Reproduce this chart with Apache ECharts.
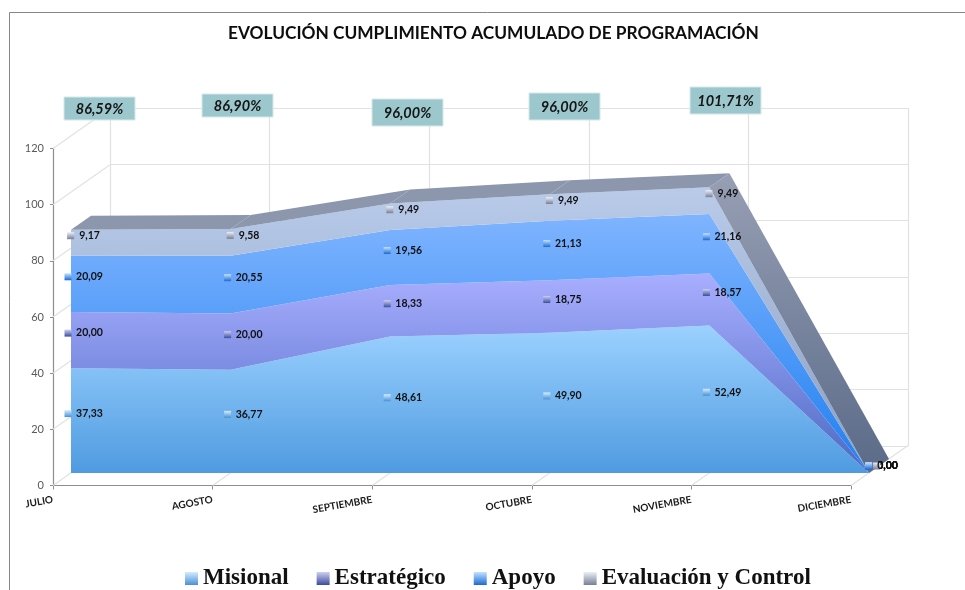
<!DOCTYPE html>
<html>
<head>
<meta charset="utf-8">
<style>html,body{margin:0;padding:0;background:#fff}#main{width:965px;height:590px}</style>
<script src="https://cdn.jsdelivr.net/npm/echarts@6/dist/echarts.min.js"></script>
</head>
<body>
<div id="main"></div>
<script>
var meses = ['JULIO', 'AGOSTO', 'SEPTIEMBRE', 'OCTUBRE', 'NOVIEMBRE', 'DICIEMBRE'];
var misional = [37.33, 36.77, 48.61, 49.90, 52.49, 0];
var estrategico = [20.00, 20.00, 18.33, 18.75, 18.57, 0];
var apoyo = [20.09, 20.55, 19.56, 21.13, 21.16, 0];
var evaluacion = [9.17, 9.58, 9.49, 9.49, 9.49, 0];
var cumplimiento = ['86,59%', '86,90%', '96,00%', '96,00%', '101,71%'];

var nombres = ['Misional', 'Estratégico', 'Apoyo', 'Evaluación y Control'];
var valores = [misional, estrategico, apoyo, evaluacion];

// [arriba, abajo] del degradado de cada banda
var bandas = [['#9bd1ff', '#4f9be0'], ['#a9aeff', '#4a69c2'], ['#7fb4ff', '#1f7ff0'], ['#b9cbe9', '#8b9ec2']];
var marcas = [['#d4ecff', '#4a90d4'], ['#cdd0f0', '#3a4c9e'], ['#c4e2ff', '#1b6ad2'], ['#eceff6', '#767f96']];
// x, y de cada recuadro de porcentaje
var cajas = [[64, 97], [202, 94], [372, 99], [529, 93], [690, 87]];

var FONT = 'Lato';
var PROF_X = 20, PROF_Y = -14;   // grosor de las areas
var PARED_X = 57, PARED_Y = -40; // fondo del grafico

function grad(c) {
    return new echarts.graphic.LinearGradient(0, 0, 0, 1, [{offset: 0, color: c[0]}, {offset: 1, color: c[1]}]);
}

var totales = meses.map(function (m, i) {
    return misional[i] + estrategico[i] + apoyo[i] + evaluacion[i];
});
var tramos = totales.slice(0, -1).map(function (t, i) { return [i, t, totales[i + 1]]; });

var etiquetas = [];
valores.forEach(function (v, s) {
    v.forEach(function (val, i) {
        var base = 0;
        for (var k = 0; k < s; k++) base += valores[k][i];
        etiquetas.push([i, base + val / 2, val, s]);
    });
});

var lineasPared = [];
[0, 20, 40, 60, 80, 100, 120].forEach(function (v) { lineasPared.push([0, v]); });
meses.forEach(function (m, i) { if (i > 0) lineasPared.push([i, 0]); });

var series = [
    {
        type: 'custom', xAxisIndex: 1, yAxisIndex: 1, z: 1, silent: true,
        data: lineasPared, encode: {x: 0, y: 1},
        renderItem: function (params, api) {
            var p = api.coord([api.value(0), api.value(1)]);
            return {
                type: 'line',
                shape: {x1: p[0], y1: p[1], x2: p[0] + PARED_X, y2: p[1] + PARED_Y},
                style: {stroke: '#e2e2e2', lineWidth: 1.2}
            };
        }
    }
];

valores.forEach(function (v, s) {
    series.push({
        name: nombres[s],
        type: 'line',
        stack: 'total',
        xAxisIndex: 2, yAxisIndex: 2,
        data: v,
        z: 3,
        symbol: 'none',
        lineStyle: {width: 0},
        itemStyle: {color: grad(marcas[s])},
        areaStyle: {color: grad(bandas[s]), opacity: 1},
        silent: true
    });
});

// techo y lateral de la pila
series.push({
    type: 'custom', xAxisIndex: 2, yAxisIndex: 2, z: 3, silent: true,
    data: tramos, encode: {x: 0, y: 1},
    renderItem: function (params, api) {
        var i = api.value(0);
        var a = api.coord([i, api.value(1)]);
        var b = api.coord([i + 1, api.value(2)]);
        var cae = api.value(2) < api.value(1) - 20;
        return {
            type: 'polygon',
            shape: {points: [a, b, [b[0] + PROF_X, b[1] + PROF_Y], [a[0] + PROF_X, a[1] + PROF_Y]]},
            style: {fill: cae ? grad(['#979fb4', '#5a6a88']) : '#8c97ae'}
        };
    }
});

// valores de cada banda
series.push({
    type: 'custom', xAxisIndex: 2, yAxisIndex: 2, z: 5, silent: true,
    data: etiquetas, encode: {x: 0, y: 1},
    renderItem: function (params, api) {
        var p = api.coord([api.value(0), api.value(1)]);
        var val = api.value(2), s = api.value(3);
        var txt = val.toFixed(2).replace('.', ',');
        var cx = p[0] + 18.5, y = p[1] - 7;
        var izq = cx - txt.length * 2.6;
        var mx = izq - 8.5;
        if (val === 0 && s === 3) mx += 8;
        return {
            type: 'group',
            children: [
                {type: 'rect', shape: {x: mx - 3.5, y: y - 3.5, width: 7, height: 7}, style: {fill: grad(marcas[s])}},
                {type: 'text', style: {x: cx, y: y, text: txt, align: 'center', verticalAlign: 'middle',
                    fill: '#111', font: 'bold 10.5px ' + FONT}}
            ]
        };
    }
});

var elementos = [
    {type: 'polyline', z: 0, shape: {points: [[9.5, 590], [9.5, 12.5], [965, 12.5]]},
        style: {stroke: '#868686', lineWidth: 1, fill: null}}
];
cumplimiento.forEach(function (t, i) {
    var alto = i >= 2 ? 27 : 23;
    elementos.push({
        type: 'rect', z: 10, x: cajas[i][0], y: cajas[i][1],
        shape: {width: 71, height: alto},
        style: {fill: '#9cc8cd', stroke: '#d5e8ea', lineWidth: 1}
    });
    elementos.push({
        type: 'text', z: 11, x: cajas[i][0] + 35.5, y: cajas[i][1] + alto / 2 + 1,
        style: {text: t, align: 'center', verticalAlign: 'middle', fill: '#151515',
            font: 'italic bold 14.5px ' + FONT}
    });
});

var option = {
    animation: false,
    backgroundColor: '#fff',
    title: {
        text: 'EVOLUCIÓN CUMPLIMIENTO ACUMULADO DE PROGRAMACIÓN',
        left: 228, top: 25, padding: 0,
        textStyle: {fontFamily: FONT, fontWeight: 'bold', fontSize: 17.3, color: '#0d0d0d'}
    },
    legend: {
        left: 185, top: 567, padding: 0,
        icon: 'rect', itemWidth: 13, itemHeight: 13, itemGap: 28,
        data: nombres.map(function (n, s) { return {name: n, itemStyle: {color: grad(marcas[s])}}; }),
        textStyle: {fontFamily: 'Liberation Serif', fontWeight: 'bold', fontSize: 23, color: '#111', padding: [0, 0, 0, 0]}
    },
    graphic: {elements: elementos},
    grid: [
        {left: 110, top: 108, width: 798, height: 338},
        {left: 53, top: 148.5, width: 798, height: 337},
        {left: 71, top: 136, width: 798, height: 337}
    ],
    xAxis: [
        {gridIndex: 0, type: 'category', boundaryGap: false, data: meses,
            axisLine: {show: false}, axisTick: {show: false}, axisLabel: {show: false},
            splitLine: {show: true, lineStyle: {color: '#e2e2e2', width: 1.2}}},
        {gridIndex: 1, type: 'category', boundaryGap: false, data: meses,
            axisLine: {lineStyle: {color: '#8e8e8e', width: 1.2}},
            axisTick: {length: 4, lineStyle: {color: '#8e8e8e'}},
            axisLabel: {rotate: 10, margin: 14, interval: 0, color: '#1a1a1a', fontFamily: FONT, fontWeight: 'bold', fontSize: 10},
            splitLine: {show: false}},
        {gridIndex: 2, type: 'category', boundaryGap: false, data: meses, show: false}
    ],
    yAxis: [
        {gridIndex: 0, type: 'value', min: 0, max: 120, interval: 20,
            axisLine: {show: false}, axisTick: {show: false}, axisLabel: {show: false},
            splitLine: {show: true, lineStyle: {color: '#e2e2e2', width: 1.2}}},
        {gridIndex: 1, type: 'value', min: 0, max: 120, interval: 20,
            axisLine: {show: true, lineStyle: {color: '#8e8e8e', width: 1.2}},
            axisTick: {show: true, length: 3, lineStyle: {color: '#8e8e8e'}},
            axisLabel: {margin: 9, color: '#595959', fontFamily: FONT, fontSize: 11},
            splitLine: {show: false}},
        {gridIndex: 2, type: 'value', min: 0, max: 120, interval: 20, show: false}
    ],
    series: series
};

var myChart = echarts.init(document.getElementById('main'));
myChart.setOption(option);
</script>
</body>
</html>
